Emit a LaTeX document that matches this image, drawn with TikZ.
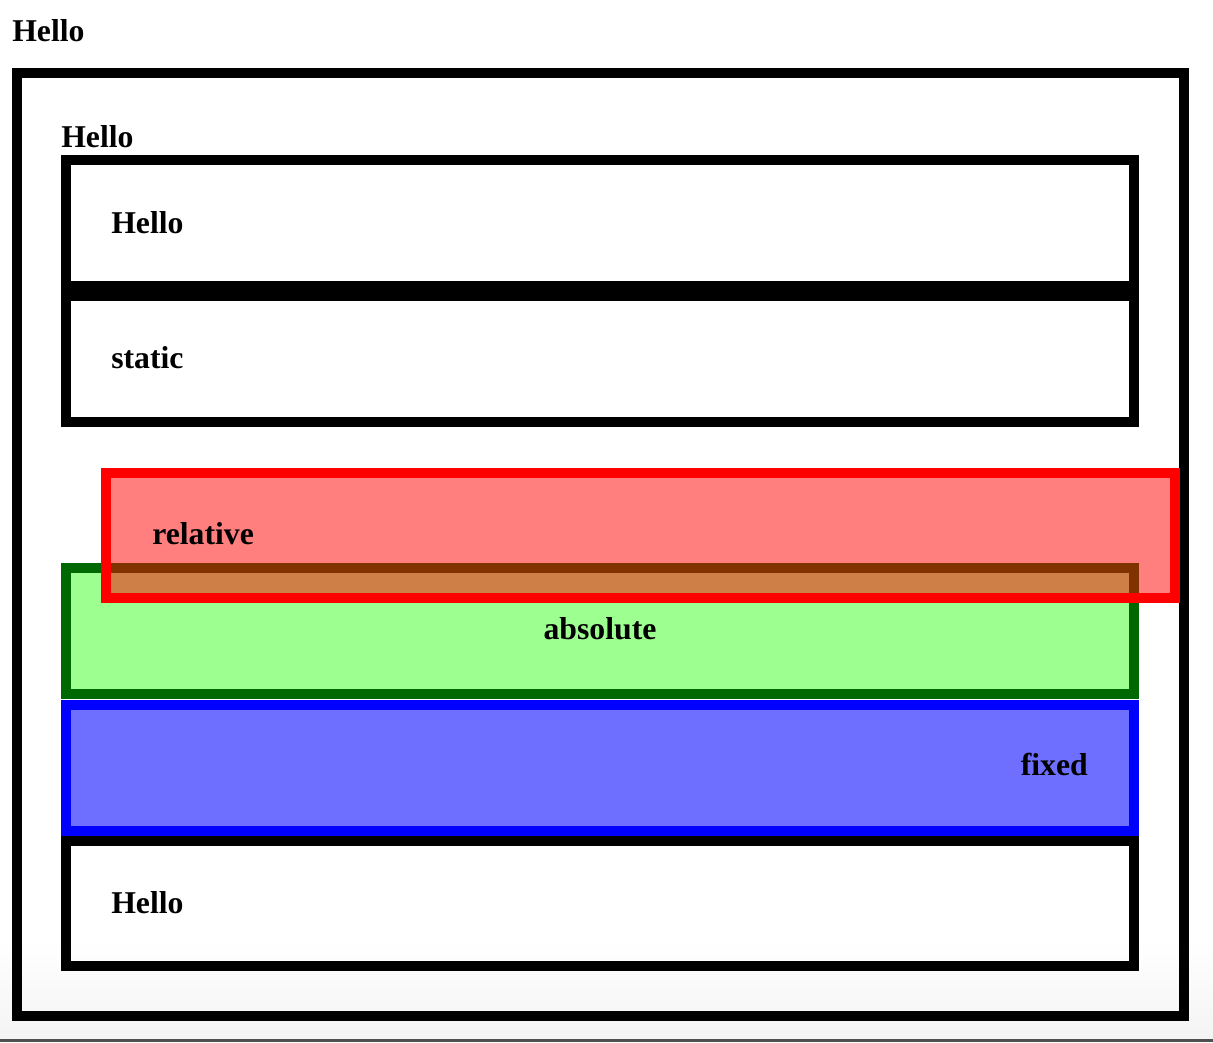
\documentclass[tikz,border=0pt]{standalone}
\usepackage{fontspec}
\setmainfont{Liberation Serif}
\begin{document}
\definecolor{relfill}{RGB}{255,0,0}
\definecolor{absfill}{RGB}{157,255,143}
\definecolor{absline}{RGB}{0,104,0}
\definecolor{fixfill}{RGB}{111,111,255}
\definecolor{fixline}{RGB}{0,0,255}
\definecolor{pagebot}{RGB}{244,244,244}
\definecolor{edge}{RGB}{80,80,80}
\begin{tikzpicture}[x=0.75pt,y=-0.75pt,
  frame/.style={draw=black,line width=7.5pt},
  label/.style={anchor=base west,inner sep=0pt,font=\fontsize{23.8pt}{28pt}\selectfont\bfseries},
]
% page
\useasboundingbox (0,0) rectangle (1213,1042);
\fill[white] (0,0) rectangle (1213,1042);
\shade[top color=white,bottom color=pagebot] (0,940) rectangle (1213,1039);
\fill[edge] (0,1039) rectangle (1213,1042);

% outer container
\node[label] (t0) at (12,41) {Hello};
\draw[frame] (17,73) rectangle (1184,1016);
\node[label] (t1) at (61,147) {Hello};

% first static blocks
\draw[frame] (66,160) rectangle (1134,286);
\node[label] (t2) at (111,233) {Hello};
\draw[frame] (66,296) rectangle (1134,422);
\node[label] (t3) at (111,368) {static};

% absolute block
\draw[frame,draw=absline,fill=absfill] (66,568) rectangle (1134,694);
\node[label,anchor=base] (t5) at (600,639) {absolute};

% fixed block
\draw[frame,draw=fixline,fill=fixfill] (66,705) rectangle (1134,831);
\node[label,anchor=base east] (t6) at (1088,775) {fixed};

% last block
\draw[frame] (66,841) rectangle (1134,966);
\node[label] (t7) at (111,913) {Hello};

% relative block, shifted over the others
\fill[relfill,fill opacity=0.5] (106,473) rectangle (1175,598);
\draw[frame,draw=relfill] (106,473) rectangle (1175,598);
\node[label] (t4) at (152,544) {relative};
\end{tikzpicture}
\end{document}
